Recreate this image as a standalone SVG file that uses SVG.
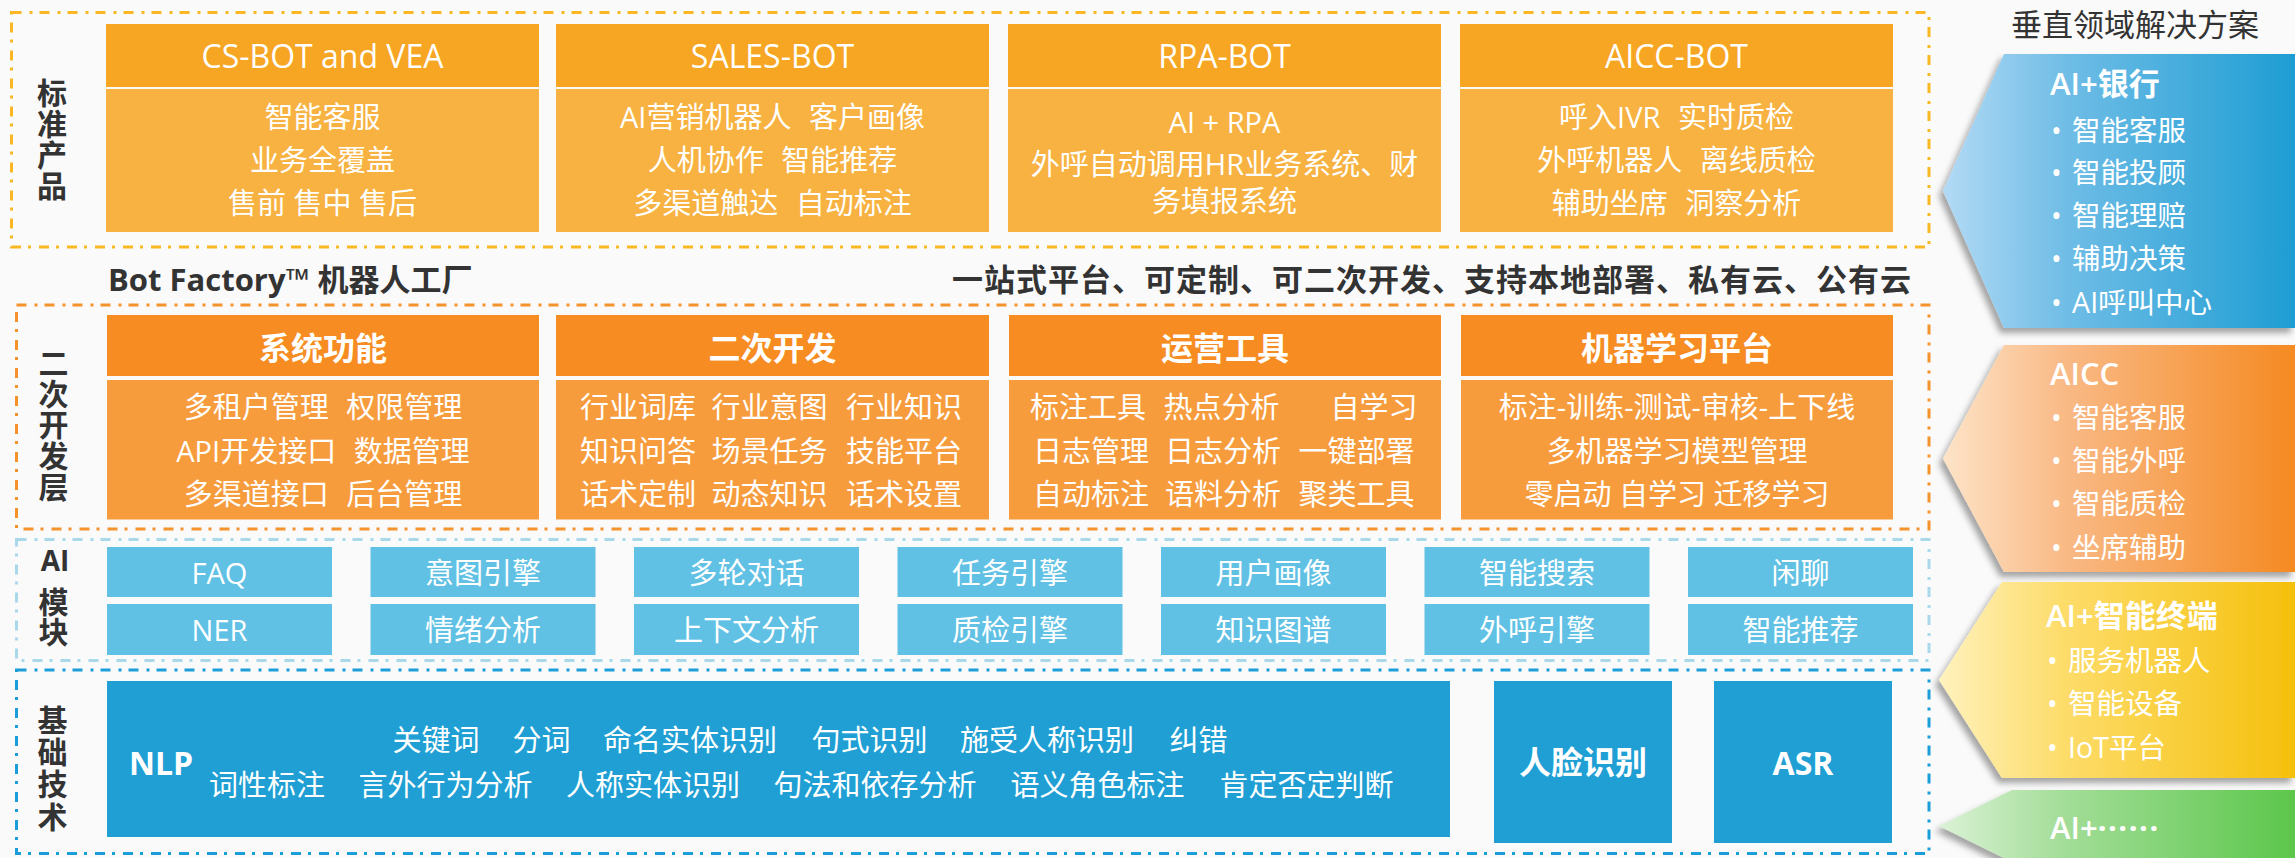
<svg xmlns="http://www.w3.org/2000/svg" width="2295" height="858" viewBox="0 0 2295 858">
<defs>
<style>
.f{font-family:"Open Sans","Noto Sans CJK SC",sans-serif}
.cj{font-family:"Noto Sans CJK SC","Open Sans",sans-serif}
.w{fill:#fff}
.c{text-anchor:middle}
.m{dominant-baseline:central}
.h{font-size:32px}
.hb{font-size:32px;font-weight:700}
.b{font-size:29px;word-spacing:10px}
.b0{font-size:29px}
.lbl{font-size:30px;font-weight:700;fill:#333}
.vt{writing-mode:vertical-rl;text-anchor:middle}
.hdr1{fill:#f6a623}
.body1{fill:#f7b241}
.hdr2{fill:#f68c22}
.body2{fill:#f79c3d}
.ai{fill:#60c1e4}
.base{fill:#1f9fd4}
.frame{fill:none;stroke-width:3;stroke-dasharray:10 8 3 7}
.cv{font-size:31px;font-weight:600}
.bl{font-size:28.5px;word-spacing:3px}
</style>
<linearGradient id="gBlue" x1="0" y1="0" x2="1" y2="0"><stop offset="0" stop-color="#b3daf5"/><stop offset="0.35" stop-color="#6fbde6"/><stop offset="1" stop-color="#1e9dd3"/></linearGradient>
<linearGradient id="gOrange" x1="0" y1="0" x2="1" y2="0"><stop offset="0" stop-color="#fde4c8"/><stop offset="0.35" stop-color="#f9b985"/><stop offset="1" stop-color="#f58a22"/></linearGradient>
<linearGradient id="gYellow" x1="0" y1="0" x2="1" y2="0"><stop offset="0" stop-color="#fff2bd"/><stop offset="0.35" stop-color="#fddc6a"/><stop offset="1" stop-color="#f5c00c"/></linearGradient>
<linearGradient id="gGreen" x1="0" y1="0" x2="1" y2="0"><stop offset="0" stop-color="#dbf2d6"/><stop offset="0.35" stop-color="#a3dd98"/><stop offset="1" stop-color="#5cc74b"/></linearGradient>
<filter id="sh" x="-10%" y="-10%" width="120%" height="130%"><feDropShadow dx="-4" dy="5" stdDeviation="3" flood-color="#000" flood-opacity="0.35"/></filter>
</defs>
<rect x="0" y="0" width="2295" height="858" fill="#fafafa"/>

<g id="frames">
<rect class="frame" x="11.5" y="12.5" width="1917.5" height="234.5" stroke="#f8b723"/>
<rect class="frame" x="16.5" y="305" width="1912.5" height="224" stroke="#f5922b"/>
<rect class="frame" x="16.5" y="539.5" width="1912.5" height="121" stroke="#a8d8ea"/>
<rect class="frame" x="16.5" y="670" width="1912.5" height="183.5" stroke="#1a9dd9"/>
</g>

<g id="label-standard">
<text class="cj lbl vt" x="52" y="140" style="letter-spacing:1px">标准产品</text>
</g>
<g id="label-dev">
<text class="cj lbl vt" x="53.5" y="425.5" style="letter-spacing:1px">二次开发层</text>
</g>
<g id="label-ai">
<text class="f lbl c m" x="55" y="560" style="font-size:28px">AI</text>
<text class="cj lbl vt" x="53.5" y="617" style="letter-spacing:0.5px">模块</text>
</g>
<g id="label-base">
<text class="cj lbl vt" x="52.5" y="769" style="letter-spacing:2.3px">基础技术</text>
</g>

<g id="cs-bot">
<rect class="hdr1" x="106" y="24" width="433" height="63"/>
<rect class="body1" x="106" y="89" width="433" height="143"/>
<text class="f h w c m" x="322.5" y="55">CS-BOT and VEA</text>
<text class="f b w c m" x="322.5" y="116">智能客服</text>
<text class="f b w c m" x="322.5" y="159">业务全覆盖</text>
<text class="f b0 w c m" x="322.5" y="202.5">售前 售中 售后</text>
</g>
<g id="sales-bot">
<rect class="hdr1" x="556" y="24" width="433" height="63"/>
<rect class="body1" x="556" y="89" width="433" height="143"/>
<text class="f h w c m" x="772.5" y="55">SALES-BOT</text>
<text class="f b w c m" x="772.5" y="116">AI营销机器人 客户画像</text>
<text class="f b w c m" x="772.5" y="159">人机协作 智能推荐</text>
<text class="f b w c m" x="772.5" y="202.5">多渠道触达 自动标注</text>
</g>
<g id="rpa-bot">
<rect class="hdr1" x="1008" y="24" width="433" height="63"/>
<rect class="body1" x="1008" y="89" width="433" height="143"/>
<text class="f h w c m" x="1224.5" y="55">RPA-BOT</text>
<text class="f b0 w c m" x="1224.5" y="121.5">AI + RPA</text>
<text class="f b w c m" x="1224.5" y="163">外呼自动调用HR业务系统、财</text>
<text class="f b w c m" x="1224.5" y="200">务填报系统</text>
</g>
<g id="aicc-bot">
<rect class="hdr1" x="1460" y="24" width="433" height="63"/>
<rect class="body1" x="1460" y="89" width="433" height="143"/>
<text class="f h w c m" x="1676.5" y="55">AICC-BOT</text>
<text class="f b w c m" x="1676.5" y="116">呼入IVR 实时质检</text>
<text class="f b w c m" x="1676.5" y="159">外呼机器人 离线质检</text>
<text class="f b w c m" x="1676.5" y="202.5">辅助坐席 洞察分析</text>
</g>

<g id="bot-factory">
<text class="f m" x="108" y="279" style="font-size:31px;font-weight:700;fill:#333">Bot Factory™ 机器人工厂</text>
</g>
<g id="platform-note">
<text class="f m" x="1911" y="279" textLength="959" lengthAdjust="spacing" style="font-size:31px;font-weight:700;fill:#333;text-anchor:end">一站式平台、可定制、可二次开发、支持本地部署、私有云、公有云</text>
</g>

<g id="sys-func">
<rect class="hdr2" x="107" y="315" width="432" height="61"/>
<rect class="body2" x="107" y="380" width="432" height="139.5"/>
<text class="f hb w c m" x="323" y="347.5">系统功能</text>
<text class="f b w c m" x="323" y="406">多租户管理 权限管理</text>
<text class="f b w c m" x="323" y="450">API开发接口 数据管理</text>
<text class="f b w c m" x="323" y="493">多渠道接口 后台管理</text>
</g>
<g id="secondary-dev">
<rect class="hdr2" x="556" y="315" width="433" height="61"/>
<rect class="body2" x="556" y="380" width="433" height="139.5"/>
<text class="f hb w c m" x="772.5" y="347.5">二次开发</text>
<text class="f b0 w m"><tspan x="580" y="406">行业词库</tspan><tspan x="711.5" y="406">行业意图</tspan><tspan x="846" y="406">行业知识</tspan></text>
<text class="f b0 w m"><tspan x="580" y="450">知识问答</tspan><tspan x="711.5" y="450">场景任务</tspan><tspan x="846" y="450">技能平台</tspan></text>
<text class="f b0 w m"><tspan x="580" y="493">话术定制</tspan><tspan x="711.5" y="493">动态知识</tspan><tspan x="846" y="493">话术设置</tspan></text>
</g>
<g id="ops-tools">
<rect class="hdr2" x="1009" y="315" width="432" height="61"/>
<rect class="body2" x="1009" y="380" width="432" height="139.5"/>
<text class="f hb w c m" x="1225" y="347.5">运营工具</text>
<text class="f b0 w m"><tspan x="1030" y="406">标注工具</tspan><tspan x="1163.5" y="406">热点分析</tspan><tspan x="1330.5" y="406">自学习</tspan></text>
<text class="f b0 w m"><tspan x="1033" y="450">日志管理</tspan><tspan x="1165" y="450">日志分析</tspan><tspan x="1298.5" y="450">一键部署</tspan></text>
<text class="f b0 w m"><tspan x="1033" y="493">自动标注</tspan><tspan x="1165" y="493">语料分析</tspan><tspan x="1298.5" y="493">聚类工具</tspan></text>
</g>
<g id="ml-platform">
<rect class="hdr2" x="1461" y="315" width="432" height="61"/>
<rect class="body2" x="1461" y="380" width="432" height="139.5"/>
<text class="f hb w c m" x="1677" y="347.5">机器学习平台</text>
<text class="f b0 w c m" x="1677" y="406">标注-训练-测试-审核-上下线</text>
<text class="f b0 w c m" x="1677" y="450">多机器学习模型管理</text>
<text class="f b0 w c m" x="1677" y="493">零启动 自学习 迁移学习</text>
</g>

<g id="ai-faq"><rect class="ai" x="107" y="547" width="225" height="50"/><text class="f b0 w c m" x="219.5" y="572.5">FAQ</text></g>
<g id="ai-intent"><rect class="ai" x="370.5" y="547" width="225" height="50"/><text class="f b0 w c m" x="483" y="572.5">意图引擎</text></g>
<g id="ai-multiturn"><rect class="ai" x="634" y="547" width="225" height="50"/><text class="f b0 w c m" x="746.5" y="572.5">多轮对话</text></g>
<g id="ai-task"><rect class="ai" x="897.5" y="547" width="225" height="50"/><text class="f b0 w c m" x="1010" y="572.5">任务引擎</text></g>
<g id="ai-profile"><rect class="ai" x="1161" y="547" width="225" height="50"/><text class="f b0 w c m" x="1273.5" y="572.5">用户画像</text></g>
<g id="ai-search"><rect class="ai" x="1424.5" y="547" width="225" height="50"/><text class="f b0 w c m" x="1537" y="572.5">智能搜索</text></g>
<g id="ai-chat"><rect class="ai" x="1688" y="547" width="225" height="50"/><text class="f b0 w c m" x="1800.5" y="572.5">闲聊</text></g>
<g id="ai-ner"><rect class="ai" x="107" y="604" width="225" height="51"/><text class="f b0 w c m" x="219.5" y="629.5">NER</text></g>
<g id="ai-emotion"><rect class="ai" x="370.5" y="604" width="225" height="51"/><text class="f b0 w c m" x="483" y="629.5">情绪分析</text></g>
<g id="ai-context"><rect class="ai" x="634" y="604" width="225" height="51"/><text class="f b0 w c m" x="746.5" y="629.5">上下文分析</text></g>
<g id="ai-qc"><rect class="ai" x="897.5" y="604" width="225" height="51"/><text class="f b0 w c m" x="1010" y="629.5">质检引擎</text></g>
<g id="ai-kg"><rect class="ai" x="1161" y="604" width="225" height="51"/><text class="f b0 w c m" x="1273.5" y="629.5">知识图谱</text></g>
<g id="ai-outbound"><rect class="ai" x="1424.5" y="604" width="225" height="51"/><text class="f b0 w c m" x="1537" y="629.5">外呼引擎</text></g>
<g id="ai-recommend"><rect class="ai" x="1688" y="604" width="225" height="51"/><text class="f b0 w c m" x="1800.5" y="629.5">智能推荐</text></g>

<g id="nlp">
<rect class="base" x="107" y="681" width="1343" height="156"/>
<text class="f w m" x="129" y="762" style="font-size:32px;font-weight:700">NLP</text>
<text class="f b0 w m"><tspan x="392.5" y="738.5">关键词</tspan><tspan x="512.5" y="738.5">分词</tspan><tspan x="603" y="738.5">命名实体识别</tspan><tspan x="811.5" y="738.5">句式识别</tspan><tspan x="960" y="738.5">施受人称识别</tspan><tspan x="1169.5" y="738.5">纠错</tspan></text>
<text class="f b0 w m"><tspan x="209" y="783.5">词性标注</tspan><tspan x="358.5" y="783.5">言外行为分析</tspan><tspan x="566" y="783.5">人称实体识别</tspan><tspan x="773.5" y="783.5">句法和依存分析</tspan><tspan x="1010.5" y="783.5">语义角色标注</tspan><tspan x="1219.5" y="783.5">肯定否定判断</tspan></text>
</g>
<g id="face">
<rect class="base" x="1494" y="681" width="178" height="162"/>
<text class="f hb w c m" x="1583" y="761">人脸识别</text>
</g>
<g id="asr">
<rect class="base" x="1714" y="681" width="178" height="162"/>
<text class="f hb w c m" x="1803" y="762">ASR</text>
</g>

<g id="vertical-title">
<text class="f c m" x="2135" y="24" style="font-size:31px;fill:#333">垂直领域解决方案</text>
</g>
<g id="sol-bank">
<polygon points="2004,54 2295,54 2295,328 2004,328 1943,191" fill="url(#gBlue)" filter="url(#sh)"/>
<text class="f cv w m" x="2050" y="83">AI+银行</text>
<text class="f bl w m"><tspan x="2051" y="130">• 智能客服</tspan><tspan x="2051" y="172">• 智能投顾</tspan><tspan x="2051" y="215">• 智能理赔</tspan><tspan x="2051" y="258">• 辅助决策</tspan><tspan x="2051" y="301.5">• AI呼叫中心</tspan></text>
</g>
<g id="sol-aicc">
<polygon points="2004,345 2295,345 2295,572 2004,572 1943,458.5" fill="url(#gOrange)" filter="url(#sh)"/>
<text class="f cv w m" x="2050" y="373">AICC</text>
<text class="f bl w m"><tspan x="2051" y="417">• 智能客服</tspan><tspan x="2051" y="460">• 智能外呼</tspan><tspan x="2051" y="503">• 智能质检</tspan><tspan x="2051" y="546.5">• 坐席辅助</tspan></text>
</g>
<g id="sol-terminal">
<polygon points="2002,582 2295,582 2295,778 2002,778 1939,680" fill="url(#gYellow)" filter="url(#sh)"/>
<text class="f cv w m" x="2046" y="615">AI+智能终端</text>
<text class="f bl w m"><tspan x="2047" y="660">• 服务机器人</tspan><tspan x="2047" y="703">• 智能设备</tspan><tspan x="2047" y="746.5">• IoT平台</tspan></text>
</g>
<g id="sol-more">
<polygon points="2012,790 2295,790 2295,862 2012,862 1939,826" fill="url(#gGreen)" filter="url(#sh)"/>
<text class="f cv w m" x="2050" y="826.5">AI+<tspan style="font-weight:700;letter-spacing:1.5px">······</tspan></text>
</g>
</svg>
